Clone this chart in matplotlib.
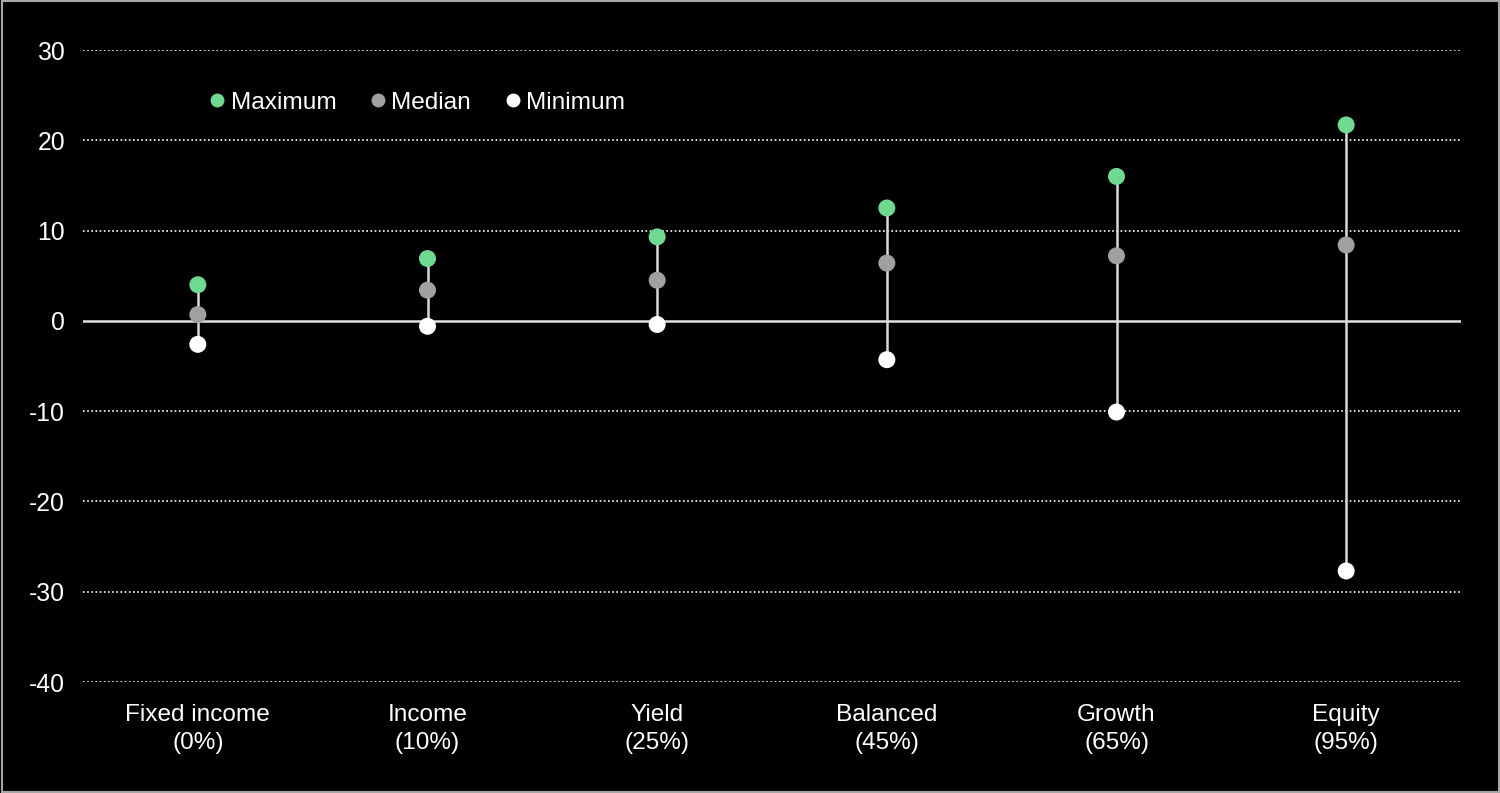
import numpy as np
import matplotlib.pyplot as plt
from matplotlib.lines import Line2D

plt.rcParams["font.family"] = ["Liberation Sans", "DejaVu Sans"]
plt.rcParams["axes.unicode_minus"] = False

categories = ["Fixed income\n(0%)", "Income\n(10%)", "Yield\n(25%)",
              "Balanced\n(45%)", "Growth\n(65%)", "Equity\n(95%)"]
maximum = [4.0, 6.9, 9.3, 12.5, 16.0, 21.7]
median = [0.7, 3.4, 4.5, 6.4, 7.2, 8.4]
minimum = [-2.6, -0.6, -0.4, -4.3, -10.1, -27.7]

green = "#6fd992"
grey = "#a0a0a0"
white = "#ffffff"

fig = plt.figure(figsize=(15, 7.93), dpi=100, facecolor="black")
ax = fig.add_axes([83 / 1500, 1 - 682 / 793, 1378 / 1500, 632 / 793])
ax.set_facecolor("black")

x = np.arange(len(categories))

for yv in [-40, -30, -20, -10, 10, 20, 30]:
    ax.axhline(yv, color="white", lw=1.2, ls=(0, (1, 1.5)), zorder=1)
ax.axhline(0, color="#e0e0e0", lw=1.8, zorder=2)

ax.vlines(x, minimum, maximum, color="#d9d9d9", lw=1.8, zorder=3)
ax.scatter(x, maximum, s=150, color=green, zorder=4, edgecolors="none")
ax.scatter(x, median, s=150, color=grey, zorder=4, edgecolors="none")
ax.scatter(x, minimum, s=150, color=white, zorder=4, edgecolors="none")

ax.set_xlim(-0.5, len(categories) - 0.5)
ax.set_ylim(-40, 30)
ax.set_yticks(np.arange(-40, 31, 10))
ax.set_xticks(x)
ax.set_xticklabels(categories, fontsize=17.6, color="white", linespacing=1.35)
ax.tick_params(axis="y", labelsize=17.8, colors="white", length=0, pad=13)
ax.tick_params(axis="x", length=0, pad=16, colors="white")
for s in ax.spines.values():
    s.set_visible(False)

handles = [
    Line2D([], [], ls="none", marker="o", ms=10, color=green, mec="none", label="Maximum"),
    Line2D([], [], ls="none", marker="o", ms=10, color=grey, mec="none", label="Median"),
    Line2D([], [], ls="none", marker="o", ms=10, color=white, mec="none", label="Minimum"),
]
leg = ax.legend(handles=handles, ncol=3, frameon=False, fontsize=17.6,
                loc="center left", bbox_to_anchor=(100 / 1378, 1 - 53 / 632),
                handletextpad=0.05, columnspacing=1.2, handlelength=1.0)
for t in leg.get_texts():
    t.set_color("white")

# thin grey frame around the image
fig.patches.append(plt.Rectangle((0.001, 0.001), 0.998, 0.998, transform=fig.transFigure,
                                 fill=False, ec="#a6a6a6", lw=1.5))

fig.savefig("out.png", dpi=100, facecolor="black")
